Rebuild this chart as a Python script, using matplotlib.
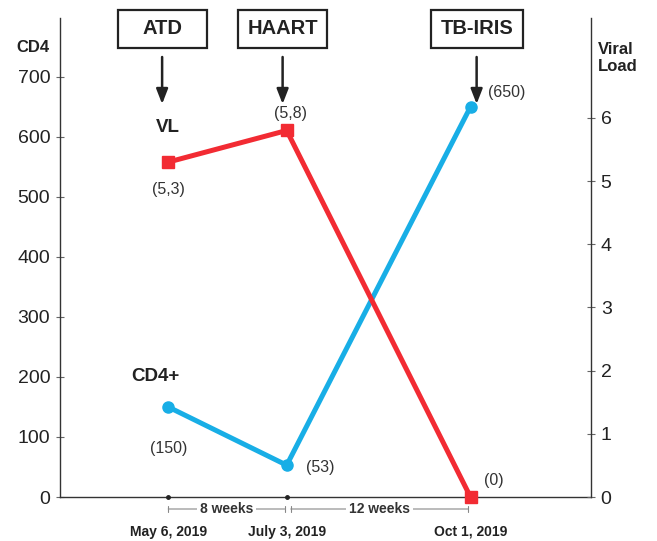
import numpy as np
import pandas as pd
import matplotlib.pyplot as plt
import matplotlib.dates as mdates
from matplotlib.patches import Rectangle
from matplotlib.transforms import blended_transform_factory

plt.rcParams['font.family'] = ['Liberation Sans', 'DejaVu Sans']

# data
dates = ["2019-05-06", "2019-07-03", "2019-10-01"]
date_labels = ["May 6, 2019", "July 3, 2019", "Oct 1, 2019"]
cd4 = [150, 53, 650]
cd4_labels = ["(150)", "(53)", "(650)"]
vl = [5.3, 5.8, 0]
vl_labels = ["(5,3)", "(5,8)", "(0)"]
events = ["ATD", "HAART", "TB-IRIS"]
event_dates = ["2019-05-06", "2019-07-03", "2019-10-01"]
intervals = ["8 weeks", "12 weeks"]

RED = "#f22b33"
BLUE = "#18aee6"
DARK = "#333333"
TXT = "#222222"

x = mdates.date2num(pd.to_datetime(dates))
ex = mdates.date2num(pd.to_datetime(event_dates))

fig = plt.figure(figsize=(6.57, 5.41), dpi=100)
ax = fig.add_axes([60 / 657, 44 / 541, 531 / 657, 479 / 541])
ax2 = ax.twinx()

ax.set_xlim(x[0] - 53, x[-1] + 59)
ax.set_ylim(0, 798)
ax2.set_ylim(0, 7.58)

for a in (ax, ax2):
    a.spines['top'].set_visible(False)
    for s in a.spines.values():
        s.set_color(DARK)
        s.set_linewidth(1.0)
    a.tick_params(axis='y', direction='inout', length=6, width=0.8, color='#666666',
                  labelsize=14, labelcolor=TXT, pad=4)
ax.spines['right'].set_visible(False)
ax2.spines['left'].set_visible(False)
ax2.spines['bottom'].set_visible(False)
ax.set_yticks(np.arange(0, 701, 100))
ax2.set_yticks(np.arange(0, 7, 1))
ax.set_xticks([])

# series
ax.plot(x, cd4, color=BLUE, lw=3.6, marker='o', ms=8, zorder=3, clip_on=False)
ax2.plot(x, vl, color=RED, lw=3.6, marker='s', ms=8, zorder=3, clip_on=False)

cd4_off = [(0, -30), (24, -2), (26, 10)]
for xi, yi, lab, off in zip(x, cd4, cd4_labels, cd4_off):
    ax.annotate(lab, (xi, yi), xytext=off, textcoords='offset points',
                ha='center', va='center', fontsize=11.5, color=DARK)
vl_off = [(0, -20), (3, 12), (17, 12)]
for xi, yi, lab, off in zip(x, vl, vl_labels, vl_off):
    ax2.annotate(lab, (xi, yi), xytext=off, textcoords='offset points',
                 ha='center', va='center', fontsize=11.5, color=DARK)

ax2.annotate("VL", (x[0], vl[0]), xytext=(0, 25), textcoords='offset points',
             ha='center', va='center', fontsize=13.5, fontweight='bold', color=TXT)
ax.annotate("CD4+", (x[0], cd4[0]), xytext=(-9, 22), textcoords='offset points',
            ha='center', va='center', fontsize=13.5, fontweight='bold', color=TXT)

# axis titles
fig.text(33 / 657, 1 - 47 / 541, "CD4", ha='center', va='center',
         fontsize=12, fontweight='bold', color=TXT)
fig.text(598 / 657, 1 - 58 / 541, "Viral\nLoad", ha='left', va='center',
         fontsize=12, fontweight='bold', color=TXT, linespacing=1.15)

# event boxes and arrows
bt = blended_transform_factory(ax.transData, fig.transFigure)
box_w = [89, 89, 92]
ev_shift = [-3, -2, 3]
for xi, lab, w, sh in zip(ex, events, box_w, ev_shift):
    xc = xi + sh
    px = ax.transData.transform((xc, 0))[0]
    fig.patches.append(Rectangle(((px - w / 2) / 657, 1 - 48 / 541), w / 657, 38 / 541,
                                 transform=fig.transFigure, fill=False,
                                 ec=TXT, lw=1.6))
    fig.text(px / 657, 1 - 29 / 541, lab, ha='center', va='center',
             fontsize=14.5, fontweight='bold', color=TXT)
    ax.annotate("", xy=(xc, 1 - 104 / 541), xytext=(xc, 1 - 57 / 541),
                xycoords=bt, textcoords=bt,
                arrowprops=dict(arrowstyle='-|>,head_length=0.9,head_width=0.35',
                                color=TXT, lw=1.8, shrinkA=0, shrinkB=0))

# dates under the axis
for xi, lab in zip(x, date_labels):
    ax.annotate(lab, (xi, 0), xytext=(0, -25), textcoords='offset points',
                ha='center', va='center', fontsize=10, fontweight='bold', color=TXT)
ax.plot(x[:2], [0, 0], 'o', color=TXT, ms=2.5, clip_on=False, zorder=4)

# interval brackets
spans = [(x[0], x[1] - 1), (x[1] + 2, x[2] - 1)]
by = 1 - 509 / 541
for (a0, a1), lab in zip(spans, intervals):
    ax.annotate("", xy=(a0, by), xytext=(a1, by), xycoords=bt, textcoords=bt,
                arrowprops=dict(arrowstyle='|-|,widthA=0.25,widthB=0.25',
                                color='#888888', lw=0.8, shrinkA=0, shrinkB=0))
    ax.text((a0 + a1) / 2, by, lab, transform=bt,
            ha='center', va='center', fontsize=10, fontweight='bold', color=DARK,
            bbox=dict(fc='white', ec='none', pad=2))

fig.savefig("out.png", dpi=100)
